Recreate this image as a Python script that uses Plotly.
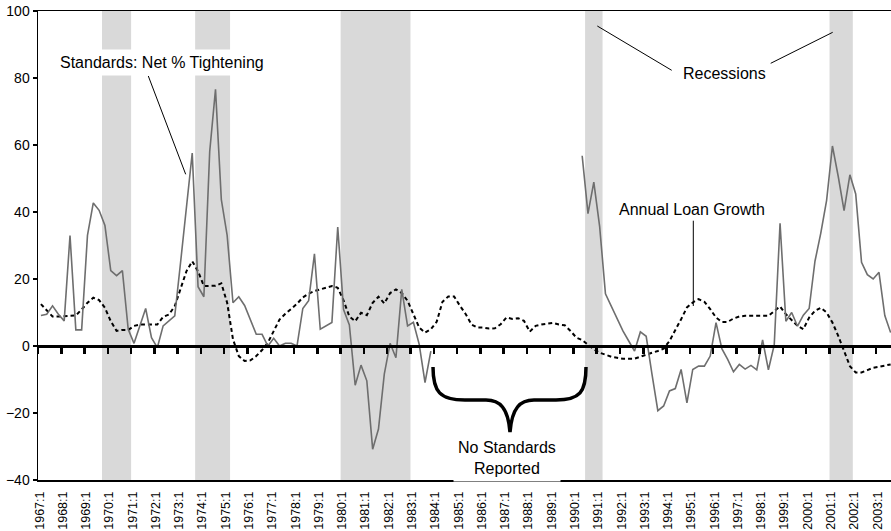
import plotly.graph_objects as go

# ---------------- data ----------------
quarters = [f"{y}:{q}" for y in range(1967, 2004) for q in range(1, 5)][:147]

standards_early = [
    9.1, 9.5, 12.0, 9.5, 7.5, 33.0, 4.8, 4.8, 33.0, 42.7,
    40.5, 36.0, 22.5, 21.0, 22.5, 5.0, 0.8, 6.0, 11.2, 2.5,
    -0.5, 6.0, 7.5, 9.0, 25.0, 42.0, 57.6, 17.7, 14.7, 58.0,
    76.6, 43.7, 33.0, 12.9, 14.7, 12.1, 7.9, 3.5, 3.5, 0.0,
    2.3, 0.0, 0.8, 0.8, 0.0, 11.2, 13.5, 27.5, 5.0, 6.0,
    7.0, 35.5, 10.9, 6.3, -11.7, -5.7, -10.4, -30.8, -24.8, -8.4,
    0.8, -3.5, 16.9, 6.0, 7.1, 0.5, -10.9, -1.5,
]
standards_missing = [None] * 25  # 1984:1 - 1990:1, no standards reported
standards_late = [
    56.8, 39.5, 48.9, 35.7, 15.6, 11.8, 8.2,
    4.5, 1.5, -1.5, 4.2, 2.9, -8.5, -19.3, -17.9, -13.4, -12.7,
    -7.0, -17.0, -7.0, -6.0, -6.0, -3.0, 7.0, -0.8, -4.0, -7.7,
    -5.5, -6.9, -5.8, -7.1, 1.8, -7.1, 0.3, 36.6, 7.4, 10.0,
    5.9, 9.2, 11.2, 25.3, 33.7, 43.5, 59.7, 50.6, 40.4, 51.1,
    45.4, 25.0, 21.3, 20.0, 22.0, 9.1, 4.0,
]
standards = standards_early + standards_missing + standards_late

loan_growth = [
    12.5, 10.5, 8.8, 8.8, 8.9, 8.9, 9.1, 10.9, 12.9, 14.4,
    13.7, 11.4, 7.4, 4.5, 4.8, 4.8, 6.0, 6.4, 6.4, 6.4,
    6.4, 8.7, 9.4, 11.9, 16.9, 22.3, 25.3, 22.3, 17.9, 17.9,
    18.0, 18.7, 12.9, 2.0, -3.0, -4.5, -4.3, -3.0, -1.2, 1.0,
    4.5, 7.9, 9.6, 11.0, 12.6, 14.5, 15.6, 16.4, 16.9, 17.6,
    17.9, 17.4, 13.6, 8.8, 7.4, 9.9, 9.2, 12.9, 14.7, 12.7,
    15.8, 16.9, 15.8, 13.5, 9.5, 5.5, 4.0, 5.0, 7.2, 13.2,
    14.8, 14.8, 12.0, 9.5, 6.4, 5.5, 5.5, 5.2, 5.3, 6.5,
    8.5, 8.1, 8.3, 7.5, 4.3, 6.0, 6.4, 6.7, 6.9, 6.4,
    6.2, 4.5, 2.5, 1.8, 0.5, -1.0, -2.0, -2.7, -3.2, -3.5,
    -3.8, -3.8, -3.8, -3.2, -2.5, -2.0, -1.5, -0.8, 1.5, 5.0,
    8.0, 11.5, 13.0, 14.0, 13.2, 11.0, 8.5, 7.2, 7.2, 8.2,
    8.8, 9.0, 9.0, 9.0, 8.8, 9.0, 10.4, 11.8, 9.5, 7.8,
    6.0, 5.0, 8.5, 10.5, 11.4, 10.0, 7.0, 3.0, -1.5, -6.0,
    -7.9, -7.9, -7.2, -6.5, -6.2, -5.8, -5.5,
]

recession_starts = ["1969:4", "1973:4", "1980:1", "1990:3", "2001:1"]
recession_ends = ["1970:4", "1975:1", "1982:4", "1991:1", "2001:4"]

tick_labels = [q for q in quarters if q.endswith(":1")]
y_ticks = [-40, -20, 0, 20, 40, 60, 80, 100]

# ---------------- geometry ----------------
W, H = 891, 531
ML, MR, MT, MB = 38, 0, 11, 51
PXQ = 5.82  # pixels per quarter
X_MIN = -0.5
X_MAX = X_MIN + (W - ML - MR) / PXQ
Y_MIN, Y_MAX = -40, 100
PPU = (H - MT - MB) / (Y_MAX - Y_MIN)


def px_x(px):
    return X_MIN + (px - ML) / PXQ


def px_y(py):
    return Y_MAX - (py - MT) / PPU


idx = list(range(len(quarters)))
FONT = "Arial, 'Liberation Sans', sans-serif"

fig = go.Figure()

fig.add_trace(go.Scatter(
    x=idx, y=loan_growth, mode="lines",
    line=dict(color="black", width=2, dash="4px,3px"),
    hoverinfo="skip", showlegend=False))
fig.add_trace(go.Scatter(
    x=idx, y=standards, mode="lines", connectgaps=False,
    line=dict(color="#6e6e6e", width=1.6),
    hoverinfo="skip", showlegend=False))
# dummy trace for the zero-line axis
fig.add_trace(go.Scatter(x=[0], y=[0], xaxis="x2", mode="markers",
                         marker=dict(opacity=0), hoverinfo="skip", showlegend=False))

shapes = []
for s, e in zip(recession_starts, recession_ends):
    i0 = quarters.index(s)
    i1 = quarters.index(e)
    shapes.append(dict(type="rect", xref="x", yref="y domain",
                       x0=i0 - 0.5, x1=i1 + 0.5, y0=0, y1=1,
                       fillcolor="#d9d9d9", line=dict(width=0), layer="below"))

# leader lines
leaders = [
    ((148.3, 76), (185.7, 174.3)),
    ((597.3, 26), (671.7, 70.3)),
    ((770.7, 63.3), (832.7, 32.3)),
    ((693.3, 220.7), (693.3, 306)),
]
for (a, b) in leaders:
    shapes.append(dict(type="line", xref="x", yref="y",
                       x0=px_x(a[0]), y0=px_y(a[1]), x1=px_x(b[0]), y1=px_y(b[1]),
                       line=dict(color="black", width=1), layer="above"))

# curly brace
brace_pts = [
    ("M", [(433, 367)]),
    ("C", [(433, 392), (440, 400), (465, 400)]),
    ("L", [(486, 400)]),
    ("C", [(500, 400), (508, 408), (510, 432)]),
    ("C", [(512, 408), (520, 400), (534, 400)]),
    ("L", [(556, 400)]),
    ("C", [(580, 400), (586, 392), (586, 367)]),
]
path = ""
for cmd, pts in brace_pts:
    path += cmd + " " + " ".join(f"{px_x(p[0]):.4f},{px_y(p[1]):.4f}" for p in pts) + " "
shapes.append(dict(type="path", xref="x", yref="y", path=path.strip(),
                   line=dict(color="black", width=3.5), layer="above"))

annotations = [
    dict(text="Standards: Net % Tightening", x=px_x(162.2), y=px_y(62.7),
         xref="x", yref="y", showarrow=False, bgcolor="white", borderpad=4,
         font=dict(family=FONT, size=16, color="black")),
    dict(text="Recessions", x=px_x(724), y=px_y(73.5),
         xref="x", yref="y", showarrow=False,
         font=dict(family=FONT, size=16, color="black")),
    dict(text="Annual Loan Growth", x=px_x(691.7), y=px_y(209.5),
         xref="x", yref="y", showarrow=False,
         font=dict(family=FONT, size=16, color="black")),
    dict(text="No Standards<br>Reported", x=px_x(506.7), y=px_y(458),
         xref="x", yref="y", showarrow=False, bgcolor="white", borderpad=4,
         font=dict(family=FONT, size=16, color="black")),
]

fig.update_layout(
    width=W, height=H,
    margin=dict(l=ML, r=MR, t=MT, b=MB, pad=0, autoexpand=False),
    paper_bgcolor="white", plot_bgcolor="white",
    showlegend=False,
    shapes=shapes, annotations=annotations,
    xaxis=dict(
        range=[X_MIN, X_MAX], showgrid=False, zeroline=False, automargin=False,
        showline=True, linecolor="black", linewidth=1.5, mirror=True,
        tickmode="array",
        tickvals=[quarters.index(t) - 0.25 for t in tick_labels],
        ticktext=tick_labels, tickangle=-90, ticks="",
        ticklabelstandoff=5,
        tickfont=dict(family=FONT, size=12.5, color="black"),
    ),
    xaxis2=dict(
        overlaying="x", matches="x", anchor="free", automargin=False,
        position=(0 - Y_MIN) / (Y_MAX - Y_MIN),
        range=[X_MIN, X_MAX], showgrid=False, zeroline=False,
        showline=True, linecolor="black", linewidth=3,
        tickmode="array",
        tickvals=[quarters.index(t) - 0.5 for t in tick_labels],
        ticks="outside", ticklen=6, tickwidth=2.5, tickcolor="black",
        showticklabels=False,
    ),
    yaxis=dict(
        range=[Y_MIN, Y_MAX], showgrid=False, zeroline=False, automargin=False,
        showline=True, linecolor="black", linewidth=1.5,
        tickmode="array", tickvals=y_ticks,
        ticks="outside", ticklen=4, tickwidth=1.5, tickcolor="black",
        tickfont=dict(family=FONT, size=14, color="black"),
    ),
)

fig.write_html(
    "out.html",
    config={"displayModeBar": False, "staticPlot": True},
    post_script="document.body.style.margin='0';document.body.style.overflow='hidden';",
)
